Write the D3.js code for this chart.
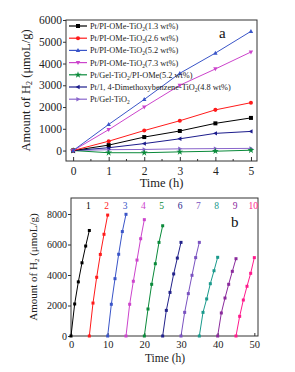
<!DOCTYPE html>
<html><head><meta charset="utf-8">
<script src="https://cdn.jsdelivr.net/npm/d3@7"></script>
<style>body{margin:0;background:#fff}svg{display:block}svg text{font-family:"Liberation Serif","Times New Roman",serif !important}</style>
</head><body><svg id="c" width="295" height="372" font-family="Liberation Serif"></svg>
<script>
// ---------- Panel a data ----------
const timesA = [0, 1, 2, 3, 4, 5];
const namesA = ["Pt/PI-OMe-TiO|2|(1.3 wt%)", "Pt/PI-OMe-TiO|2|(2.6 wt%)", "Pt/PI-OMe-TiO|2|(5.2 wt%)", "Pt/PI-OMe-TiO|2|(7.3 wt%)",
  "Pt/Gel-TiO|2|/PI-OMe(5.2 wt%)", "Pt/1, 4-Dimethoxybenzene-TiO|2|(4.8 wt%)", "Pt/Gel-TiO|2|"];
const s13 = [0, 250, 620, 900, 1250, 1500];
const s26 = [0, 430, 920, 1370, 1870, 2200];
const s52 = [0, 1200, 2350, 3550, 4480, 5480];
const s73 = [0, 960, 2000, 3000, 3750, 4530];
const sGelPI = [0, -100, -100, -60, -30, 15];
const sDMB = [0, 130, 320, 540, 790, 880];
const sGel = [0, 40, 50, 80, 90, 100];
const seriesA = [s13, s26, s52, s73, sGelPI, sDMB, sGel];
const colorsA = ["#000000", "#ff1a1a", "#3a55c8", "#cc44cc", "#0a8a3a", "#1c1c8c", "#8a66cc"];
const symbolsA = ["square", "circle", "triUp", "triDown", "star", "triLeft", "triRight"];
const yTicksA = [0, 1000, 2000, 3000, 4000, 5000, 6000];
const xTicksA = [0, 1, 2, 3, 4, 5];

// ---------- Panel b data ----------
const cycleLabels = ["1", "2", "3", "4", "5", "6", "7", "8", "9", "10"];
const cycleStart = [0, 5, 10, 15, 20, 25, 30, 35, 40, 45];
const cycleValues = [
  [0, 2100, 3550, 4800, 5900, 6920],
  [0, 2160, 3850, 5350, 6670, 7930],
  [0, 2080, 3760, 5360, 6850, 7980],
  [0, 2080, 3590, 4980, 6380, 7630],
  [0, 1770, 3390, 4740, 6140, 7230],
  [0, 1680, 2860, 4070, 5110, 6140],
  [0, 1550, 2780, 3980, 5140, 6140],
  [0, 1550, 2430, 3430, 4280, 5160],
  [0, 1510, 2490, 3390, 4240, 5070],
  [0, 1290, 2360, 3260, 4110, 5140]
];
const colorsB = ["#000000", "#ff1a1a", "#3a55c8", "#cc44cc", "#0a8a3a", "#22228a", "#7a52c0", "#1a9a8c", "#8a2a9c", "#ff1a8c"];
const yTicksB = [0, 2000, 4000, 6000, 8000];
const xTicksB = [0, 10, 20, 30, 40, 50];

const svg = d3.select("#c");
const axisCol = "#333";

function symbolPath(type, s) {
  const h = s / 2;
  switch (type) {
    case "square": return `M${-h},${-h}h${s}v${s}h${-s}Z`;
    case "circle": return d3.symbol(d3.symbolCircle, s * s * 0.8)();
    case "triUp": return `M0,${-h * 1.2}L${h * 1.1},${h * 0.8}L${-h * 1.1},${h * 0.8}Z`;
    case "triDown": return `M0,${h * 1.2}L${h * 1.1},${-h * 0.8}L${-h * 1.1},${-h * 0.8}Z`;
    case "triLeft": return `M${-h * 1.2},0L${h * 0.8},${-h * 1.1}L${h * 0.8},${h * 1.1}Z`;
    case "triRight": return `M${h * 1.2},0L${-h * 0.8},${-h * 1.1}L${-h * 0.8},${h * 1.1}Z`;
    case "star": return d3.symbol(d3.symbolStar, s * s * 0.9)();
  }
}

function richText(sel, str, subSize) {
  const parts = str.split("|");
  parts.forEach((p, i) => {
    if (!p) return;
    const t = sel.append("tspan").text(p);
    if (i % 2 === 1) t.attr("font-size", subSize).attr("dy", 2);
    else if (i > 0) t.attr("dy", -2);
  });
}

// ================= Panel a =================
{
  const L = 66, R = 257, T = 20, B = 161;
  const x = d3.scaleLinear().domain([-0.2, 5.17]).range([L, R]);
  const y = d3.scaleLinear().domain([-480, 6000]).range([B, T]);
  const g = svg.append("g");

  const ya = g.append("g").attr("transform", `translate(${L},0)`)
    .call(d3.axisLeft(y).tickValues(yTicksA).tickSize(3).tickPadding(1).tickFormat(d3.format("d")));
  ya.attr("font-family", null);
  ya.select(".domain").remove();
  ya.selectAll("line").attr("stroke", axisCol);
  ya.selectAll("text").attr("font-size", 11.5).attr("fill", "#222");

  const xa = g.append("g").attr("transform", `translate(0,${B})`)
    .call(d3.axisBottom(x).tickValues(xTicksA).tickSize(-4).tickPadding(6).tickFormat(d3.format("d")));
  xa.attr("font-family", null);
  xa.select(".domain").remove();
  xa.selectAll("line").attr("stroke", axisCol);
  xa.selectAll("text").attr("font-size", 11.5).attr("fill", "#222");
  g.append("g").selectAll("line").data(xTicksA.slice(0, -1).map(d => d + 0.5)).join("line")
    .attr("x1", d => x(d)).attr("x2", d => x(d)).attr("y1", B).attr("y2", B - 2).attr("stroke", axisCol);

  g.append("rect").attr("x", L).attr("y", T).attr("width", R - L).attr("height", B - T)
    .attr("fill", "none").attr("stroke", axisCol).attr("stroke-width", 1);

  const line = d3.line().x((d, i) => x(timesA[i])).y(d => y(d));
  const order = [6, 4, 5, 0, 1, 3, 2];
  order.forEach(k => {
    g.append("path").attr("d", line(seriesA[k])).attr("fill", "none").attr("stroke", colorsA[k]).attr("stroke-width", 1);
    g.append("g").selectAll("path").data(seriesA[k]).join("path")
      .attr("d", symbolPath(symbolsA[k], 4))
      .attr("transform", (d, i) => `translate(${x(timesA[i])},${y(d)})`)
      .attr("fill", colorsA[k]);
  });

  const lx0 = 69, lx1 = 87, ly0 = 26, ldy = 12.2;
  namesA.forEach((n, k) => {
    const yy = ly0 + k * ldy;
    g.append("line").attr("x1", lx0).attr("x2", lx1).attr("y1", yy).attr("y2", yy).attr("stroke", colorsA[k]).attr("stroke-width", 1.2);
    g.append("path").attr("d", symbolPath(symbolsA[k], 4)).attr("transform", `translate(${(lx0 + lx1) / 2},${yy})`).attr("fill", colorsA[k]);
    const t = g.append("text").attr("x", 90).attr("y", yy + 3).attr("font-size", 8.3).attr("fill", "#222");
    richText(t, n, 5.5);
  });

  g.append("text").attr("x", 219).attr("y", 38).attr("font-size", 15).attr("fill", "#111").text("a");
  g.append("text").attr("x", (L + R) / 2).attr("y", 187).attr("text-anchor", "middle").attr("font-size", 12.5).attr("fill", "#222").text("Time (h)");
  const yl = g.append("text").attr("transform", `translate(30,${(T + B) / 2}) rotate(-90)`).attr("text-anchor", "middle").attr("font-size", 12.5).attr("fill", "#222");
  richText(yl, "Amount of H|2| (μmoL/g)", 8);
}

// ================= Panel b =================
{
  const L = 71, R = 258, T = 198, B = 336;
  const x = d3.scaleLinear().domain([0, 51]).range([L, R]);
  const y = d3.scaleLinear().domain([0, 9050]).range([B, T]);
  const g = svg.append("g");

  const ya = g.append("g").attr("transform", `translate(${L},0)`)
    .call(d3.axisLeft(y).tickValues(yTicksB).tickSize(3).tickPadding(1).tickFormat(d3.format("d")));
  ya.attr("font-family", null);
  ya.select(".domain").remove();
  ya.selectAll("line").attr("stroke", axisCol);
  ya.selectAll("text").attr("font-size", 10).attr("fill", "#222");

  const xa = g.append("g").attr("transform", `translate(0,${B})`)
    .call(d3.axisBottom(x).tickValues(xTicksB).tickSize(-3).tickPadding(5).tickFormat(d3.format("d")));
  xa.attr("font-family", null);
  xa.select(".domain").remove();
  xa.selectAll("line").attr("stroke", axisCol);
  xa.selectAll("text").attr("font-size", 10.5).attr("fill", "#222");

  g.append("rect").attr("x", L).attr("y", T).attr("width", R - L).attr("height", B - T)
    .attr("fill", "none").attr("stroke", axisCol).attr("stroke-width", 1);

  cycleValues.forEach((vals, k) => {
    const pts = vals.map((v, i) => [x(cycleStart[k] + i), y(v)]);
    g.append("path").attr("d", d3.line()(pts)).attr("fill", "none").attr("stroke", colorsB[k]).attr("stroke-width", 1);
    g.append("g").selectAll("rect").data(pts).join("rect")
      .attr("x", d => d[0] - 1.5).attr("y", d => d[1] - 1.5).attr("width", 3).attr("height", 3)
      .attr("fill", colorsB[k]);
    g.append("text").attr("x", x(cycleStart[k] + 5) - 1).attr("y", 209).attr("text-anchor", "middle")
      .attr("font-size", 9.5).attr("fill", colorsB[k]).text(cycleLabels[k]);
  });

  g.append("text").attr("x", 231).attr("y", 227).attr("font-size", 15).attr("fill", "#111").text("b");
  g.append("text").attr("x", 165).attr("y", 362).attr("text-anchor", "middle").attr("font-size", 11.5).attr("fill", "#222").text("Time (h)");
  const yl = g.append("text").attr("transform", `translate(37,${(T + B) / 2}) rotate(-90)`).attr("text-anchor", "middle").attr("font-size", 11).attr("fill", "#222");
  richText(yl, "Amount of H|2| (μmoL/g)", 7);
}
</script></body></html>
